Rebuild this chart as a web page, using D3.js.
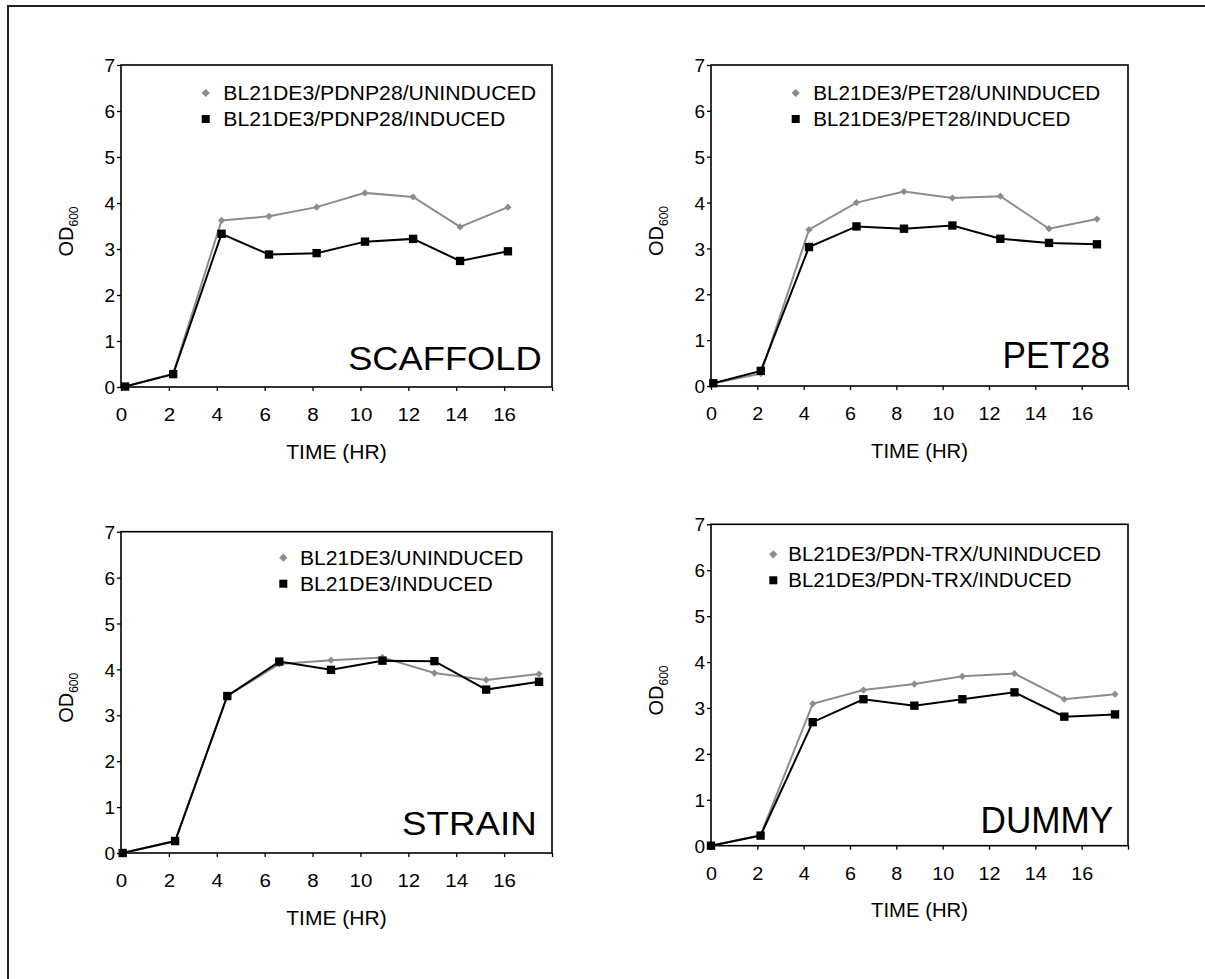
<!DOCTYPE html>
<html>
<head>
<meta charset="utf-8">
<script src="https://cdn.jsdelivr.net/npm/d3@7"></script>
<style>
  body { margin: 0; background: #fff; }
  svg { display: block; }
  text { font-family: "Liberation Sans", Arial, sans-serif; fill: #000; }
</style>
</head>
<body>
<svg id="chart" width="1205" height="979"></svg>
<script>
// OD600 growth curves (time in hours)
let scaffoldTime = [0.17, 2.18, 4.2, 6.18, 8.17, 10.19, 12.2, 14.16, 16.16];
let scaffoldUninduced = [0.01, 0.29, 3.62, 3.71, 3.91, 4.22, 4.13, 3.48, 3.91];
let scaffoldInduced = [0.01, 0.28, 3.33, 2.88, 2.91, 3.16, 3.22, 2.74, 2.95];

let pet28Time = [0.1, 2.15, 4.23, 6.28, 8.33, 10.42, 12.49, 14.59, 16.66];
let pet28Uninduced = [0.06, 0.27, 3.41, 4.0, 4.24, 4.1, 4.14, 3.43, 3.64];
let pet28Induced = [0.06, 0.33, 3.03, 3.48, 3.43, 3.5, 3.21, 3.12, 3.09];

let strainTime = [0.07, 2.26, 4.44, 6.61, 8.77, 10.92, 13.09, 15.25, 17.46];
let strainUninduced = [0.0, 0.26, 3.42, 4.12, 4.2, 4.26, 3.92, 3.77, 3.9];
let strainInduced = [0.0, 0.26, 3.42, 4.17, 3.99, 4.19, 4.18, 3.56, 3.73];

let dummyTime = [0.0, 2.14, 4.39, 6.58, 8.78, 10.85, 13.1, 15.25, 17.44];
let dummyUninduced = [0.0, 0.23, 3.09, 3.39, 3.52, 3.69, 3.75, 3.19, 3.3];
let dummyInduced = [0.0, 0.22, 2.69, 3.19, 3.05, 3.19, 3.34, 2.81, 2.86];

let xTicks = [0, 2, 4, 6, 8, 10, 12, 14, 16, 18];
let yTicks = [0, 1, 2, 3, 4, 5, 6, 7];

let svg = d3.select('#chart');
let grey = '#8c8c8c';

// outer frame (only left and top edges are visible in the page)
svg.append('rect').attr('x', 8).attr('y', 6).attr('width', 1400).attr('height', 1200)
  .attr('fill', 'none').attr('stroke', '#222').attr('stroke-width', 2);

panel({ left: 121, top: 65, w: 431, h: 322, sx: 1.08,
  time: scaffoldTime, uninduced: scaffoldUninduced, induced: scaffoldInduced,
  names: ['BL21DE3/PDNP28/UNINDUCED', 'BL21DE3/PDNP28/INDUCED'],
  leg: { mx: 84.7, tx: 102.3, y: 28, sx: 1.09 },
  label: 'SCAFFOLD', labelSize: 33, labelSx: 1.1, labelDx: 10.3, labelDy: 17 });

panel({ left: 711, top: 65, w: 417, h: 321, sx: 1.04,
  time: pet28Time, uninduced: pet28Uninduced, induced: pet28Induced,
  names: ['BL21DE3/PET28/UNINDUCED', 'BL21DE3/PET28/INDUCED'],
  leg: { mx: 84.7, tx: 102.3, y: 28, sx: 1.06 },
  label: 'PET28', labelSize: 37, labelSx: 0.95, labelDx: 18, labelDy: 17.7 });

panel({ left: 121, top: 531.7, w: 431, h: 321.3, sx: 1.08,
  time: strainTime, uninduced: strainUninduced, induced: strainInduced,
  names: ['BL21DE3/UNINDUCED', 'BL21DE3/INDUCED'],
  leg: { mx: 162.3, tx: 179, y: 26, sx: 1.085 },
  label: 'STRAIN', labelSize: 34, labelSx: 1.08, labelDx: 15.3, labelDy: 18 });

panel({ left: 711, top: 524.3, w: 417, h: 321.4, sx: 1.04,
  time: dummyTime, uninduced: dummyUninduced, induced: dummyInduced,
  names: ['BL21DE3/PDN-TRX/UNINDUCED', 'BL21DE3/PDN-TRX/INDUCED'],
  leg: { mx: 62.3, tx: 77.3, y: 30, sx: 1.05 },
  label: 'DUMMY', labelSize: 37, labelSx: 0.95, labelDx: 14.7, labelDy: 13 });

function panel(p) {
  let g = svg.append('g').attr('transform', `translate(${p.left},${p.top})`);

  let x = d3.scaleLinear().domain([0, 18]).range([0, p.w]);
  let y = d3.scaleLinear().domain([0, 7]).range([p.h, 0]);

  // axes, ticks point outwards, 18 has a tick but no label
  let xAxis = d3.axisBottom(x).tickValues(xTicks).tickSize(4).tickSizeOuter(0)
    .tickFormat((d) => (d < 18 ? d : ''));
  let yAxis = d3.axisLeft(y).tickValues(yTicks).tickSize(4).tickSizeOuter(0)
    .tickFormat(d3.format('d'));

  let gx = g.append('g').attr('transform', `translate(0,${p.h})`).call(xAxis);
  let gy = g.append('g').call(yAxis);
  [gx, gy].forEach((a) => {
    a.attr('font-family', null).attr('font-size', 19);
    a.selectAll('line').attr('stroke', '#000').attr('stroke-width', 1.3);
    a.select('.domain').remove();
  });
  gx.selectAll('text').attr('y', 34).attr('dy', 0).attr('transform', `scale(${p.sx},1)`);
  gy.selectAll('text').attr('x', -6).attr('dy', '0.35em');

  // plot box
  g.append('rect').attr('width', p.w).attr('height', p.h)
    .attr('fill', 'none').attr('stroke', '#000').attr('stroke-width', 1.6);

  // axis titles
  g.append('text').attr('transform', `translate(${p.w / 2},${p.h + 71.5}) scale(${p.sx},1)`)
    .attr('text-anchor', 'middle').attr('font-size', 19.5).text('TIME (HR)');

  let od = g.append('text').attr('transform', `translate(-48,${p.h / 2 + 5.5}) rotate(-90)`)
    .attr('text-anchor', 'middle').attr('font-size', 20);
  od.append('tspan').text('OD');
  od.append('tspan').attr('font-size', 12).attr('dy', 5).text('600');

  // series: grey uninduced first, black induced on top
  let line = d3.line().x((d) => x(d[0])).y((d) => y(d[1]));
  let greyPts = d3.zip(p.time, p.uninduced);
  let blackPts = d3.zip(p.time, p.induced);

  g.append('path').datum(greyPts).attr('d', line)
    .attr('fill', 'none').attr('stroke', grey).attr('stroke-width', 2);
  g.selectAll('.dia').data(greyPts).enter().append('path').attr('class', 'dia')
    .attr('d', d3.symbol(d3.symbolSquare, 26))
    .attr('transform', (d) => `translate(${x(d[0])},${y(d[1])}) rotate(45)`)
    .attr('fill', grey);

  g.append('path').datum(blackPts).attr('d', line)
    .attr('fill', 'none').attr('stroke', '#000').attr('stroke-width', 2);
  g.selectAll('.sq').data(blackPts).enter().append('path').attr('class', 'sq')
    .attr('d', d3.symbol(d3.symbolSquare, 70))
    .attr('transform', (d) => `translate(${x(d[0])},${y(d[1])})`)
    .attr('fill', '#000');

  // legend
  let lg = g.append('g');
  lg.append('path').attr('d', d3.symbol(d3.symbolSquare, 34))
    .attr('transform', `translate(${p.leg.mx},${p.leg.y}) rotate(45)`).attr('fill', grey);
  lg.append('path').attr('d', d3.symbol(d3.symbolSquare, 64))
    .attr('transform', `translate(${p.leg.mx},${p.leg.y + 26})`).attr('fill', '#000');
  p.names.forEach((n, i) => {
    lg.append('text').attr('transform', `translate(${p.leg.tx},${p.leg.y + 7 + i * 26}) scale(${p.leg.sx},1)`)
      .attr('font-size', 19.5).text(n);
  });

  // big panel label
  g.append('text').attr('transform', `translate(${p.w - p.labelDx},${p.h - p.labelDy}) scale(${p.labelSx},1)`)
    .attr('text-anchor', 'end').attr('font-size', p.labelSize).text(p.label);
}
</script>
</body>
</html>
